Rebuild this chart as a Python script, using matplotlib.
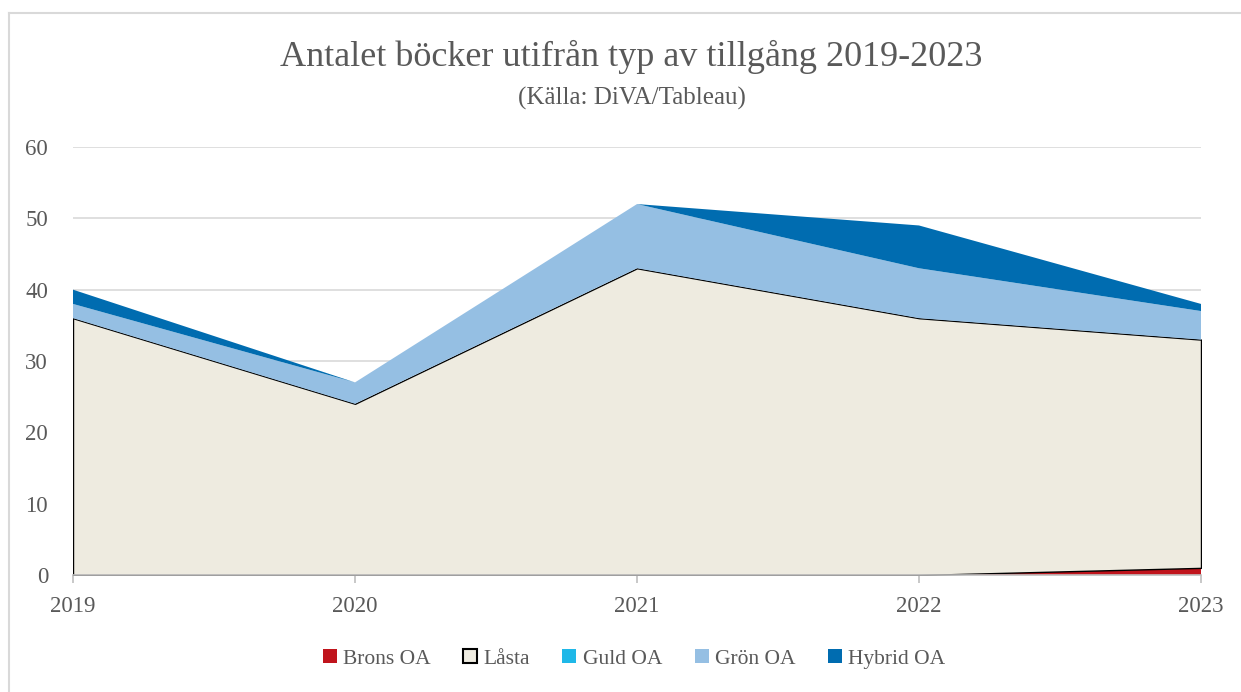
import matplotlib.pyplot as plt
from matplotlib.patches import Patch
from matplotlib.lines import Line2D

years = [2019, 2020, 2021, 2022, 2023]
series_names = ['Brons OA', 'Låsta', 'Guld OA', 'Grön OA', 'Hybrid OA']
brons = [0, 0, 0, 0, 1]
lasta = [36, 24, 43, 36, 32]
guld = [0, 0, 0, 0, 0]
gron = [2, 3, 9, 7, 4]
hybrid = [2, 0, 0, 6, 1]

colors = ['#C0141C', '#EEEBE0', '#1FB8E8', '#95BFE3', '#006CB0']
text_gray = '#595959'
grid_gray = '#D9D9D9'

plt.rcParams['font.family'] = ['Liberation Serif', 'DejaVu Serif']

W, H = 1241, 692
fig = plt.figure(figsize=(W / 100, H / 100), dpi=100)
ax = fig.add_axes([73 / W, 1 - 575 / H, (1201 - 73) / W, (575 - 147) / H])

polys = ax.stackplot(years, brons, lasta, guld, gron, hybrid, colors=colors,
                     linewidth=0, zorder=2)
polys[1].set_edgecolor('black')
polys[1].set_linewidth(1.0)

ax.set_xlim(years[0], years[-1])
ax.set_ylim(0, 60)
ax.set_yticks(range(0, 61, 10))
ax.set_xticks(years)
ax.grid(axis='y', color=grid_gray, linewidth=1.2, zorder=0)
ax.set_axisbelow(True)

for s in ['top', 'right', 'left']:
    ax.spines[s].set_visible(False)
ax.spines['bottom'].set_color('#BFBFBF')
ax.spines['bottom'].set_linewidth(1.2)
ax.spines['bottom'].set_zorder(3)

ax.tick_params(axis='y', length=0, pad=18, labelsize=16.5, labelcolor=text_gray)
ax.tick_params(axis='x', length=6, width=1.2, color='#BFBFBF', pad=9,
               labelsize=16.5, labelcolor=text_gray)

fig.text(0.509, 1 - 57 / H, 'Antalet böcker utifrån typ av tillgång 2019-2023',
         ha='center', va='center', fontsize=26, color=text_gray)
fig.text(0.509, 1 - 98 / H, '(Källa: DiVA/Tableau)',
         ha='center', va='center', fontsize=18, color=text_gray)

handles = []
for name, c in zip(series_names, colors):
    if name == 'Låsta':
        handles.append(Patch(facecolor=c, edgecolor='black', linewidth=1.5, label=name))
    else:
        handles.append(Patch(facecolor=c, edgecolor='none', label=name))
leg = fig.legend(handles=handles, loc='center', bbox_to_anchor=(0.511, 1 - 659 / H),
                 ncol=5, frameon=False, fontsize=15.5, handlelength=0.65,
                 handleheight=0.65, handletextpad=0.3, columnspacing=1.5)
for t in leg.get_texts():
    t.set_color(text_gray)

# chart area border (top and left visible)
fig.add_artist(Line2D([8.5 / W, 1], [1 - 12.5 / H, 1 - 12.5 / H],
                      color='#D9D9D9', linewidth=1.5, transform=fig.transFigure))
fig.add_artist(Line2D([8.5 / W, 8.5 / W], [0, 1 - 12.5 / H],
                      color='#D9D9D9', linewidth=1.5, transform=fig.transFigure))

fig.savefig('out.png', dpi=100)
